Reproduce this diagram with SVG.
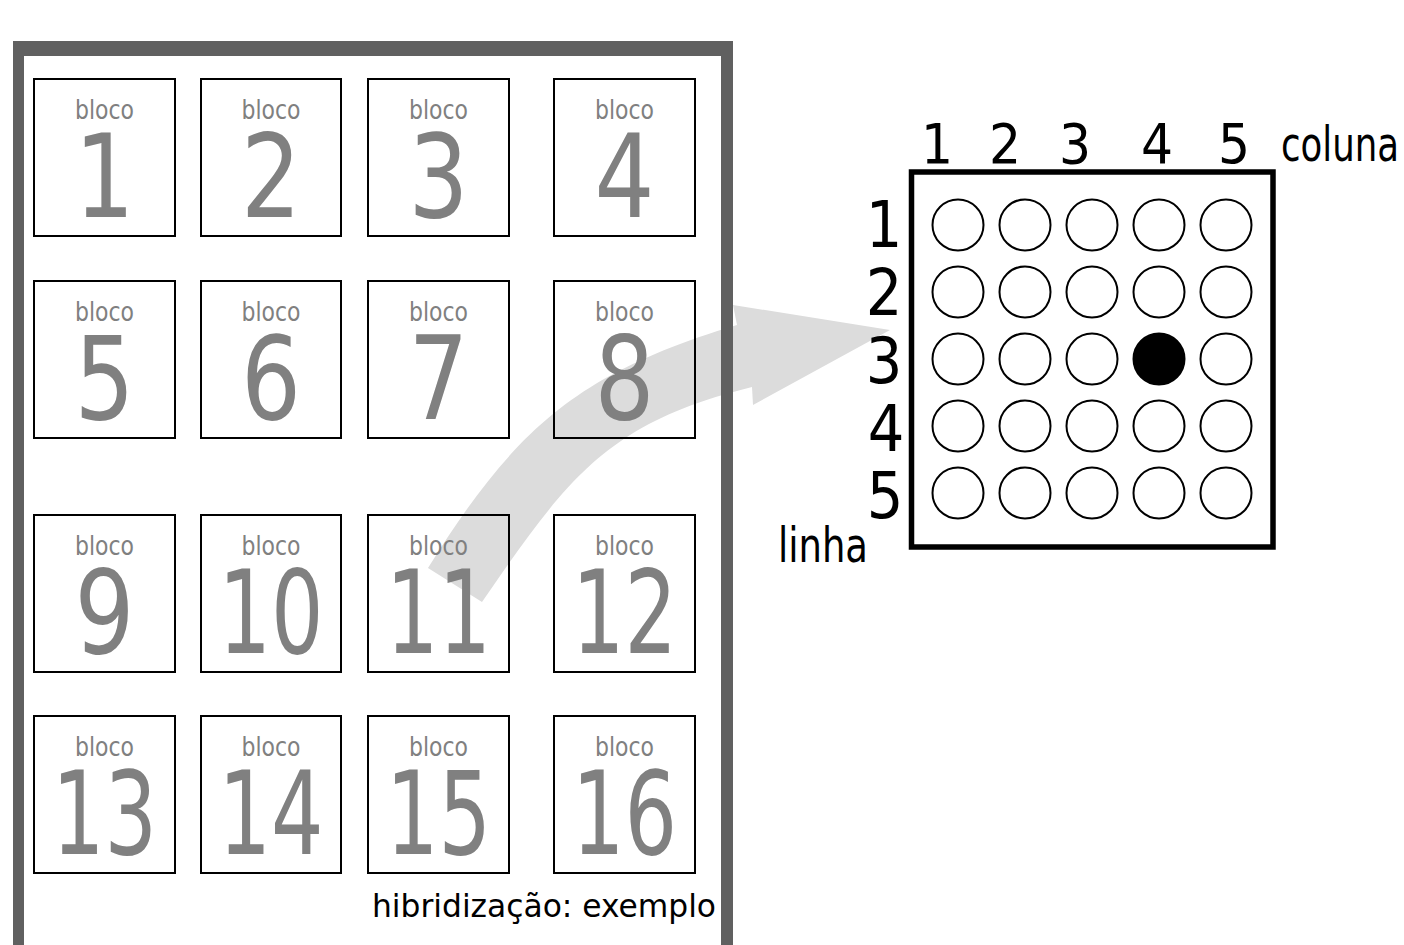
<svg xmlns="http://www.w3.org/2000/svg" width="1404" height="945" viewBox="0 0 1404 945">
<style>
.t{font-family:"DejaVu Sans Condensed","DejaVu Sans",sans-serif;font-stretch:condensed}
.box{fill:none;stroke:#000;stroke-width:2}
.lbl{fill:#808080;font-size:26px;text-anchor:middle}
.num{fill:#808080;font-size:116px;text-anchor:middle}
.frame{fill:#606060}
.dot{fill:#fff;stroke:#000;stroke-width:2}
.ax{fill:#000;text-anchor:middle}
</style>
<rect x="0" y="0" width="1404" height="945" fill="#fff"/>
<g id="connectors">
<path d="M428,568 C515,428 579,372.5 737,325 L733,305 L890,330 L753,405 L752,387 C606,423 567,479 482,602 Z" fill="#dcdcdc"/>
</g>
<g id="frame">
<rect class="frame" x="13" y="41" width="11" height="904"/>
<rect class="frame" x="13" y="41" width="720" height="15"/>
<rect class="frame" x="721" y="41" width="12" height="904"/>
</g>
<g id="bloco1"><rect class="box" x="34" y="79" width="141" height="157"/><text class="t lbl" x="104.5" y="119" textLength="59" lengthAdjust="spacingAndGlyphs">bloco</text><text class="t num" x="104.5" y="217" textLength="60" lengthAdjust="spacingAndGlyphs">1</text></g>
<g id="bloco2"><rect class="box" x="201" y="79" width="140" height="157"/><text class="t lbl" x="271" y="119" textLength="59" lengthAdjust="spacingAndGlyphs">bloco</text><text class="t num" x="271" y="217" textLength="60" lengthAdjust="spacingAndGlyphs">2</text></g>
<g id="bloco3"><rect class="box" x="368" y="79" width="141" height="157"/><text class="t lbl" x="438.5" y="119" textLength="59" lengthAdjust="spacingAndGlyphs">bloco</text><text class="t num" x="438.5" y="217" textLength="60" lengthAdjust="spacingAndGlyphs">3</text></g>
<g id="bloco4"><rect class="box" x="554" y="79" width="141" height="157"/><text class="t lbl" x="624.5" y="119" textLength="59" lengthAdjust="spacingAndGlyphs">bloco</text><text class="t num" x="624.5" y="217" textLength="60" lengthAdjust="spacingAndGlyphs">4</text></g>
<g id="bloco5"><rect class="box" x="34" y="281" width="141" height="157"/><text class="t lbl" x="104.5" y="321" textLength="59" lengthAdjust="spacingAndGlyphs">bloco</text><text class="t num" x="104.5" y="419" textLength="60" lengthAdjust="spacingAndGlyphs">5</text></g>
<g id="bloco6"><rect class="box" x="201" y="281" width="140" height="157"/><text class="t lbl" x="271" y="321" textLength="59" lengthAdjust="spacingAndGlyphs">bloco</text><text class="t num" x="271" y="419" textLength="60" lengthAdjust="spacingAndGlyphs">6</text></g>
<g id="bloco7"><rect class="box" x="368" y="281" width="141" height="157"/><text class="t lbl" x="438.5" y="321" textLength="59" lengthAdjust="spacingAndGlyphs">bloco</text><text class="t num" x="438.5" y="419" textLength="60" lengthAdjust="spacingAndGlyphs">7</text></g>
<g id="bloco8"><rect class="box" x="554" y="281" width="141" height="157"/><text class="t lbl" x="624.5" y="321" textLength="59" lengthAdjust="spacingAndGlyphs">bloco</text><text class="t num" x="624.5" y="419" textLength="60" lengthAdjust="spacingAndGlyphs">8</text></g>
<g id="bloco9"><rect class="box" x="34" y="515" width="141" height="157"/><text class="t lbl" x="104.5" y="555" textLength="59" lengthAdjust="spacingAndGlyphs">bloco</text><text class="t num" x="104.5" y="653" textLength="60" lengthAdjust="spacingAndGlyphs">9</text></g>
<g id="bloco10"><rect class="box" x="201" y="515" width="140" height="157"/><text class="t lbl" x="271" y="555" textLength="59" lengthAdjust="spacingAndGlyphs">bloco</text><text class="t num" x="271" y="653" textLength="105" lengthAdjust="spacingAndGlyphs">10</text></g>
<g id="bloco11"><rect class="box" x="368" y="515" width="141" height="157"/><text class="t lbl" x="438.5" y="555" textLength="59" lengthAdjust="spacingAndGlyphs">bloco</text><text class="t num" x="438.5" y="653" textLength="105" lengthAdjust="spacingAndGlyphs">11</text></g>
<g id="bloco12"><rect class="box" x="554" y="515" width="141" height="157"/><text class="t lbl" x="624.5" y="555" textLength="59" lengthAdjust="spacingAndGlyphs">bloco</text><text class="t num" x="624.5" y="653" textLength="105" lengthAdjust="spacingAndGlyphs">12</text></g>
<g id="bloco13"><rect class="box" x="34" y="716" width="141" height="157"/><text class="t lbl" x="104.5" y="756" textLength="59" lengthAdjust="spacingAndGlyphs">bloco</text><text class="t num" x="104.5" y="854" textLength="105" lengthAdjust="spacingAndGlyphs">13</text></g>
<g id="bloco14"><rect class="box" x="201" y="716" width="140" height="157"/><text class="t lbl" x="271" y="756" textLength="59" lengthAdjust="spacingAndGlyphs">bloco</text><text class="t num" x="271" y="854" textLength="105" lengthAdjust="spacingAndGlyphs">14</text></g>
<g id="bloco15"><rect class="box" x="368" y="716" width="141" height="157"/><text class="t lbl" x="438.5" y="756" textLength="59" lengthAdjust="spacingAndGlyphs">bloco</text><text class="t num" x="438.5" y="854" textLength="105" lengthAdjust="spacingAndGlyphs">15</text></g>
<g id="bloco16"><rect class="box" x="554" y="716" width="141" height="157"/><text class="t lbl" x="624.5" y="756" textLength="59" lengthAdjust="spacingAndGlyphs">bloco</text><text class="t num" x="624.5" y="854" textLength="105" lengthAdjust="spacingAndGlyphs">16</text></g>
<g id="caption"><text class="t" x="372" y="917" font-size="31.5" fill="#000" textLength="344" lengthAdjust="spacingAndGlyphs">hibridização: exemplo</text></g>
<g id="grade">
<rect x="911.5" y="172" width="361.5" height="375" fill="none" stroke="#000" stroke-width="5.5"/>
<g>
<circle class="dot" cx="958" cy="225" r="25.5"/><circle class="dot" cx="1025" cy="225" r="25.5"/><circle class="dot" cx="1092" cy="225" r="25.5"/><circle class="dot" cx="1159" cy="225" r="25.5"/><circle class="dot" cx="1226" cy="225" r="25.5"/>
<circle class="dot" cx="958" cy="292" r="25.5"/><circle class="dot" cx="1025" cy="292" r="25.5"/><circle class="dot" cx="1092" cy="292" r="25.5"/><circle class="dot" cx="1159" cy="292" r="25.5"/><circle class="dot" cx="1226" cy="292" r="25.5"/>
<circle class="dot" cx="958" cy="359" r="25.5"/><circle class="dot" cx="1025" cy="359" r="25.5"/><circle class="dot" cx="1092" cy="359" r="25.5"/><circle cx="1159" cy="359" r="25.5" fill="#000" stroke="#000" stroke-width="2"/><circle class="dot" cx="1226" cy="359" r="25.5"/>
<circle class="dot" cx="958" cy="426" r="25.5"/><circle class="dot" cx="1025" cy="426" r="25.5"/><circle class="dot" cx="1092" cy="426" r="25.5"/><circle class="dot" cx="1159" cy="426" r="25.5"/><circle class="dot" cx="1226" cy="426" r="25.5"/>
<circle class="dot" cx="958" cy="493" r="25.5"/><circle class="dot" cx="1025" cy="493" r="25.5"/><circle class="dot" cx="1092" cy="493" r="25.5"/><circle class="dot" cx="1159" cy="493" r="25.5"/><circle class="dot" cx="1226" cy="493" r="25.5"/>
</g>
<g font-size="56">
<text class="t ax" x="937" y="163">1</text><text class="t ax" x="1005" y="163">2</text><text class="t ax" x="1075" y="163">3</text><text class="t ax" x="1157" y="163">4</text><text class="t ax" x="1234" y="163">5</text>
</g>
<g font-size="64">
<text class="t ax" x="884" y="247">1</text><text class="t ax" x="884" y="315">2</text><text class="t ax" x="884" y="383">3</text><text class="t ax" x="886" y="451">4</text><text class="t ax" x="885" y="518">5</text>
</g>
<text class="t" x="1281" y="161" font-size="48" fill="#000" textLength="118" lengthAdjust="spacingAndGlyphs">coluna</text>
<text class="t" x="778" y="562" font-size="48" fill="#000" textLength="90" lengthAdjust="spacingAndGlyphs">linha</text>
</g>
</svg>
